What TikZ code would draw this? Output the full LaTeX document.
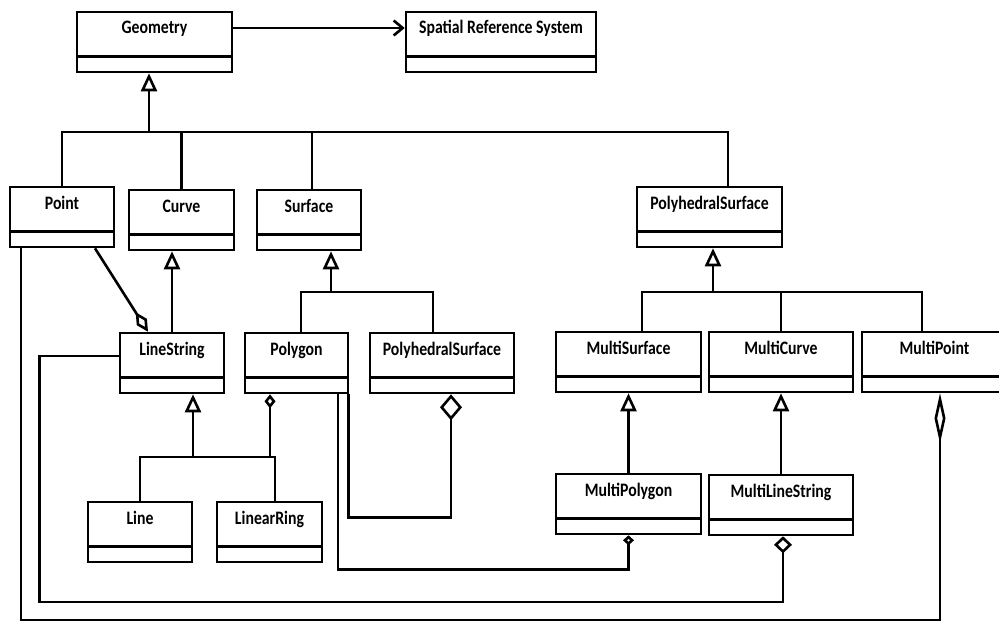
\documentclass[tikz,border=0pt]{standalone}
\usepackage{fontspec}
\newfontfamily\umlfont{Carlito}[FakeStretch=0.83]
\usetikzlibrary{arrows.meta}

\begin{document}
\begin{tikzpicture}[
		x = 1pt, y = -1pt, % pixel grid, y runs downwards
		line width = 2.6pt, % line style
		font = \umlfont\bfseries\fontsize{19}{22}\selectfont
		]
		
		\tikzstyle{umlclass}=[
		draw = black,
		inner xsep = 2pt,
		inner ysep = 0pt,
		text height = 22pt,
		text depth = 38pt,
		minimum width = 104pt,
		path picture = {\draw ([yshift=15.5pt]path picture bounding box.south west) -- ([yshift=15.5pt]path picture bounding box.south east);}
		]
		\tikzstyle{gen}=[-{Triangle[open, width=16pt, length=18pt]}]
		\tikzstyle{assoc}=[-{Straight Barb[length=9pt, width=15pt]}]
		
		\useasboundingbox (0,0) rectangle (999,621);
		
		% classes
		\node[umlclass, minimum width=155pt] (geometry) at (154.5,42) {Geometry};
		\node[umlclass, minimum width=190pt] (srs) at (501,42) {Spatial Reference System};
		
		\node[umlclass] (point) at (62,217) {Point};
		\node[umlclass, minimum width=105pt] (curve) at (181.5,220) {Curve};
		\node[umlclass] (surface) at (309,220) {Surface};
		\node[umlclass, minimum width=145pt] (polysurf) at (709.5,217) {PolyhedralSurface};
		
		\node[umlclass] (linestring) at (172,363) {LineString};
		\node[umlclass, minimum width=103pt] (polygon) at (296.5,363) {Polygon};
		\node[umlclass, minimum width=144pt] (polysurf2) at (442,363) {PolyhedralSurface};
		\node[umlclass, minimum width=145pt] (multisurface) at (628.5,362) {MultiSurface};
		\node[umlclass, minimum width=144pt] (multicurve) at (781,362) {MultiCurve};
		\node[umlclass, minimum width=145pt] (multipoint) at (934.5,362) {MultiPoint};
		
		\node[umlclass, minimum width=145pt] (multipolygon) at (628.5,504) {MultiPolygon};
		\node[umlclass, minimum width=144pt] (multilinestring) at (781,505) {MultiLineString};
		\node[umlclass] (line) at (140,532) {Line};
		\node[umlclass, minimum width=105pt] (linearring) at (269.5,532) {LinearRing};
		
		% association
		\draw[assoc] ([yshift=14pt]geometry.east) -- ([yshift=14pt]srs.west);
		
		% generalisation buses
		\coordinate (geobus) at (149,132);
		\draw (point.north) |- ([xshift=18.5pt]polysurf.north |- geobus) -- ([xshift=18.5pt]polysurf.north);
		\draw (curve.north) -- (curve.north |- geobus);
		\draw ([xshift=3pt]surface.north) -- ([xshift=3pt]surface.north |- geobus);
		\draw[gen] (geobus) -- (geobus |- geometry.south);
		
		\coordinate (surfbus) at (331,292);
		\draw ([xshift=4.5pt]polygon.north) |- ([xshift=-9pt]polysurf2.north |- surfbus) -- ([xshift=-9pt]polysurf2.north);
		\draw[gen] (surfbus) -- (surfbus |- surface.south);
		
		\coordinate (polybus) at (713,292);
		\draw ([xshift=13.5pt]multisurface.north) |- ([xshift=-12.5pt]multipoint.north |- polybus) -- ([xshift=-12.5pt]multipoint.north);
		\draw (multicurve.north) -- (multicurve.north |- polybus);
		\draw[gen] (polybus) -- (polybus |- polysurf.south);
		
		\coordinate (linebus) at (193,457);
		\draw (line.north) |- ([xshift=5.5pt]linearring.north |- linebus) -- ([xshift=5.5pt]linearring.north);
		\draw[gen] (linebus) -- (linebus |- linestring.south);
		
		\draw[gen] (linestring.north) -- (linestring.north |- curve.south);
		\draw[gen] (multipolygon.north) -- (multisurface.south);
		\draw[gen] (multilinestring.north) -- (multicurve.south);
		
		% aggregations
		\draw[-{Diamond[open, width=11pt, length=14pt]}] ([xshift=-26.5pt]polygon.south |- linebus) -- ([xshift=-26.5pt]polygon.south);
		\draw[-{Diamond[open, width=12pt, length=23pt]}] ([xshift=33pt]point.south) -- ([xshift=-24pt]linestring.north);
		\draw[-{Diamond[open, width=22pt, length=26pt]}] ([xshift=-1pt]polygon.south east) -- ++(0,123) -| ([xshift=9pt]polysurf2.south);
		\draw[-{Diamond[open, width=11pt, length=10pt]}] ([xshift=41.5pt]polygon.south) -- ++(0,175) -| (multipolygon.south);
		\draw[-{Diamond[open, width=18pt, length=17pt]}] ([yshift=7pt]linestring.west) -| ++(-79,246) -| ([xshift=2pt]multilinestring.south);
		\draw[-{Diamond[open, width=11pt, length=50pt]}] ([xshift=-41pt]point.south) -- ++(0,372) -| ([xshift=5.5pt]multipoint.south);
	\end{tikzpicture}
\end{document}
